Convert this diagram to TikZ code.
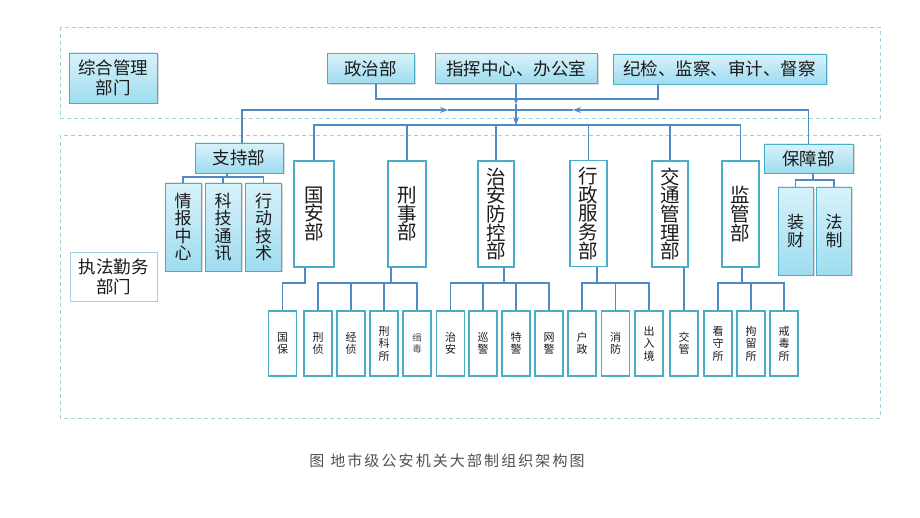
\documentclass[tikz,border=0pt]{standalone}
\usepackage{fontspec}
\setmainfont{Noto Sans CJK SC}
\usetikzlibrary{arrows.meta,shadows}
\setlength{\lineskiplimit}{-20pt}
\definecolor{boxline}{HTML}{4BACC6}
\definecolor{linkcol}{HTML}{4F8AC4}
\definecolor{fillhi}{HTML}{D8F2FA}
\definecolor{filllo}{HTML}{9EDCF0}
\definecolor{regioncol}{HTML}{9ED3DA}
\definecolor{inkcol}{HTML}{1A1A1A}
\definecolor{capcol}{HTML}{505050}

\begin{document}
\begin{tikzpicture}[x=1pt, y=-1pt,
    bluebox/.style={draw=boxline, line width=0.9pt, top color=fillhi, bottom color=filllo,
      inner sep=0pt, align=center, text=inkcol,
      drop shadow={opacity=0.3, shadow xshift=1.5pt, shadow yshift=-1.5pt}},
    topfont/.style={font=\fontsize{17.5pt}{20pt}\selectfont},
    colfont/.style={font=\fontsize{17pt}{17.5pt}\selectfont},
    bigbox/.style={draw=boxline, line width=1.8pt, fill=white, inner sep=0pt,
      minimum height=106pt, align=center, text=inkcol,
      font=\fontsize{19.5pt}{18.7pt}\selectfont},
    subbox/.style={draw=boxline, line width=1.8pt, fill=white, inner sep=0pt,
      minimum width=28pt, minimum height=65pt, align=center, text=inkcol,
      font=\fontsize{11pt}{12.5pt}\selectfont},
    link/.style={draw=linkcol, line width=1.2pt},
    tip/.style={-{Stealth[length=8pt,width=6pt]}},
    region/.style={draw=regioncol, line width=0.8pt, dash pattern=on 4pt off 3pt}]

    \useasboundingbox (0,0) rectangle (920,518);

    % dashed frames
    \draw[region] (60,27) rectangle (880,118);
    \draw[region] (60,135) rectangle (880,418);

    % top row
    \node[bluebox, topfont, minimum width=88pt, minimum height=50pt] (zh) at (113,78) {综合管理\\部门};
    \node[bluebox, topfont, minimum width=87pt, minimum height=30pt] (zz) at (370.5,68.5) {政治部};
    \node[bluebox, topfont, minimum width=162pt, minimum height=30pt] (zhb) at (516,68.5) {指挥中心、办公室};
    \node[bluebox, topfont, minimum width=213pt, minimum height=30pt] (jj) at (719.5,69) {纪检、监察、审计、督察};

    % lower frame
    \node[draw=regioncol, line width=0.8pt, fill=white, topfont, text=inkcol, align=center,
      inner sep=0pt, minimum width=87pt, minimum height=49pt] (zf) at (113.5,276.5) {执法勤务\\部门};
    \node[bluebox, topfont, minimum width=88pt, minimum height=30pt] (zc) at (239,158) {支持部};
    \node[bluebox, topfont, minimum width=89pt, minimum height=29pt] (bz) at (808.5,158.5) {保障部};

    \node[bluebox, colfont, minimum width=36pt, minimum height=88pt] (qb) at (183,227) {情\\报\\中\\心};
    \node[bluebox, colfont, minimum width=36pt, minimum height=88pt] (kj) at (223,227) {科\\技\\通\\讯};
    \node[bluebox, colfont, minimum width=36pt, minimum height=88pt] (xd) at (263.5,227) {行\\动\\技\\术};
    \node[bluebox, colfont, minimum width=35pt, minimum height=88pt] (zb) at (795.5,231) {装\\财};
    \node[bluebox, colfont, minimum width=35pt, minimum height=88pt] (fzh) at (834,231) {法\\制};

    \node[bigbox, minimum width=40pt] (ga) at (314,214) {国\\安\\部};
    \node[bigbox, minimum width=38pt] (xs) at (407,214) {刑\\事\\部};
    \node[bigbox, minimum width=36pt] (za) at (496,214) {治\\安\\防\\控\\部};
    \node[bigbox, minimum width=37pt] (xz) at (588.5,213.5) {行\\政\\服\\务\\部};
    \node[bigbox, minimum width=36pt] (jt) at (670,214) {交\\通\\管\\理\\部};
    \node[bigbox, minimum width=37pt] (jg) at (740.5,214) {监\\管\\部};

    \node[subbox] (gb) at (282.5,343.5) {国\\保};
    \node[subbox] (xzh) at (318,343.5) {刑\\侦};
    \node[subbox] (jzh) at (351,343.5) {经\\侦};
    \node[subbox] (xks) at (384,343.5) {刑\\科\\所};
    \node[subbox, font=\fontsize{9.5pt}{11.5pt}\selectfont, text=capcol] (jd) at (417,343.5) {缉\\毒};
    \node[subbox] (zan) at (450.5,343.5) {治\\安};
    \node[subbox] (xj) at (483,343.5) {巡\\警};
    \node[subbox] (tj) at (516,343.5) {特\\警};
    \node[subbox] (wj) at (549,343.5) {网\\警};
    \node[subbox] (hz) at (582,343.5) {户\\政};
    \node[subbox] (xf) at (615.5,343.5) {消\\防};
    \node[subbox] (cr) at (649,343.5) {出\\入\\境};
    \node[subbox] (jgl) at (684,343.5) {交\\管};
    \node[subbox] (ks) at (718,343.5) {看\\守\\所};
    \node[subbox] (jl) at (751,343.5) {拘\\留\\所};
    \node[subbox] (jds) at (784,343.5) {戒\\毒\\所};

    \node[font={\fontsize{15pt}{18pt}\selectfont\addfontfeature{LetterSpace=14}}, text=capcol] (cap) at (447,461)
      {图\hspace{6pt}地市级公安机关大部制组织架构图};

    % connectors, top
    \coordinate (zz-b) at ([xshift=5.5pt]zz.south);
    \coordinate (jj-b) at ([xshift=-61.5pt]jj.south);
    \coordinate (l1) at (0,99);
    \coordinate (m1) at (516,104);
    \coordinate (m2) at (516,125);
    \coordinate (l2) at (516,110);
    \coordinate (ar-l) at (448,110);
    \coordinate (ar-r) at (573,110);
    \coordinate (zc-t) at ([xshift=3pt]zc.north);

    \draw[link] (zz-b) |- (jj-b |- l1) -- (jj-b);
    \draw[link, -{Stealth[length=6pt,width=5pt]}] (zhb.south) -- (m1);
    \draw[link, tip] (m1) -- (m2);
    \draw[link, tip] (zc-t) |- (ar-l);
    \draw[link] (ar-l) -- (l2);
    \draw[link, tip] (bz.north) |- (ar-r);
    \draw[link] (ar-r) -- (l2);
    \foreach \d in {ga,xs,za,xz,jt,jg}
        \draw[link] (m2) -| (\d.north);

    % support and logistics
    \coordinate (zc-b) at ([xshift=-12pt]zc.south);
    \coordinate (l3) at (0,177);
    \foreach \s in {qb,kj,xd}
        \draw[link] (zc-b) |- (\s.north |- l3) -- (\s.north);
    \coordinate (bz-b) at ([xshift=4.5pt]bz.south);
    \coordinate (l4) at (0,180);
    \foreach \s in {zb,fzh}
        \draw[link] (bz-b) |- (\s.north |- l4) -- (\s.north);

    % departments to sections
    \coordinate (l5) at (0,283);
    \coordinate (ga-b) at ([xshift=-9pt]ga.south);
    \coordinate (xs-b) at ([xshift=-16pt]xs.south);
    \coordinate (za-b) at ([xshift=8pt]za.south);
    \coordinate (xz-b) at ([xshift=8.5pt]xz.south);
    \coordinate (jt-b) at ([xshift=14pt]jt.south);
    \coordinate (jg-b) at ([xshift=1.5pt]jg.south);
    \draw[link] (ga-b) |- (gb.north |- l5) -- (gb.north);
    \foreach \s in {xzh,jzh,xks,jd}
        \draw[link] (xs-b) |- (\s.north |- l5) -- (\s.north);
    \foreach \s in {zan,xj,tj,wj}
        \draw[link] (za-b) |- (\s.north |- l5) -- (\s.north);
    \foreach \s in {hz,xf,cr}
        \draw[link] (xz-b) |- (\s.north |- l5) -- (\s.north);
    \draw[link] (jt-b) -- (jgl.north);
    \foreach \s in {ks,jl,jds}
        \draw[link] (jg-b) |- (\s.north |- l5) -- (\s.north);

\end{tikzpicture}
\end{document}
